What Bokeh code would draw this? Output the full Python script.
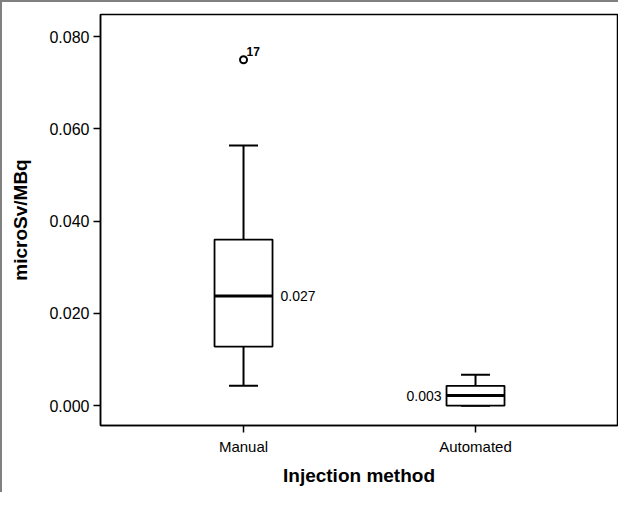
from bokeh.plotting import figure
from bokeh.models import FixedTicker, ColumnDataSource, Range1d
from bokeh.core.properties import value
from bokeh.embed import file_html
from bokeh.resources import INLINE

# ---- data ----
categories = ["Manual", "Automated"]
positions = [0, 1]
q1 = [0.0128, 0.0]
median = [0.0238, 0.0022]
q3 = [0.0360, 0.0043]
whisker_low = [0.0043, 0.0]
whisker_high = [0.0564, 0.0067]
means = [0.027, 0.003]
outlier_pos = [0]
outlier_val = [0.075]
outlier_ids = ["17"]
y_ticks = [0.0, 0.02, 0.04, 0.06, 0.08]

FONT = "Liberation Sans"
box_half = 0.125
cap_half = 0.0625

p = figure(width=618, height=492, output_backend="svg", toolbar_location=None,
           x_range=Range1d(-0.6165, 1.612), y_range=Range1d(-0.0043, 0.0848),
           min_border_left=98, min_border_top=12, min_border_right=3, min_border_bottom=69)
p.styles = {"border-left": "2px solid #808080", "border-top": "2px solid #808080"}
p.grid.visible = False
p.background_fill_color = "white"
p.border_fill_color = "white"
p.outline_line_color = "black"
p.outline_line_width = 1.5

src = ColumnDataSource(dict(
    x=positions,
    left=[v - box_half for v in positions], right=[v + box_half for v in positions],
    cl=[v - cap_half for v in positions], cr=[v + cap_half for v in positions],
    q1=q1, med=median, q3=q3, lo=whisker_low, hi=whisker_high,
    mean_txt=["%.3f" % m for m in means],
))

# whiskers
p.segment(x0="x", y0="q3", x1="x", y1="hi", source=src, line_color="black", line_width=2)
p.segment(x0="x", y0="lo", x1="x", y1="q1", source=src, line_color="black", line_width=2)
p.segment(x0="cl", y0="hi", x1="cr", y1="hi", source=src, line_color="black", line_width=2)
p.segment(x0="cl", y0="lo", x1="cr", y1="lo", source=src, line_color="black", line_width=2)
# boxes
p.quad(left="left", right="right", bottom="q1", top="q3", source=src,
       fill_color="white", line_color="black", line_width=1.8)
# median
p.segment(x0="left", y0="med", x1="right", y1="med", source=src, line_color="black", line_width=3)

# mean labels
p.text(x=[positions[0]], y=[median[0]], text=[src.data["mean_txt"][0]], x_offset=37,
       text_align="left", text_baseline="middle", text_font=value(FONT),
       text_font_size="14px", text_color="black")
p.text(x=[positions[1]], y=[median[1]], text=[src.data["mean_txt"][1]], x_offset=-34,
       text_align="right", text_baseline="middle", text_font=value(FONT),
       text_font_size="14px", text_color="black")

# outlier
p.scatter(x=outlier_pos, y=outlier_val, marker="circle", size=7, fill_color="white",
          line_color="black", line_width=2)
p.text(x=outlier_pos, y=outlier_val, text=outlier_ids, x_offset=3, y_offset=-4,
       text_align="left", text_baseline="bottom", text_font=value(FONT),
       text_font_size="12px", text_font_style="bold", text_color="black")

# axes
p.xaxis.ticker = FixedTicker(ticks=positions)
p.xaxis.major_label_overrides = {pos: c for pos, c in zip(positions, categories)}
p.yaxis.ticker = FixedTicker(ticks=y_ticks)
p.yaxis.major_label_overrides = {t: "%.3f" % t for t in y_ticks}
for ax in (p.xaxis[0], p.yaxis[0]):
    ax.axis_line_color = "black"
    ax.axis_line_width = 1.5
    ax.major_tick_line_color = "black"
    ax.major_tick_line_width = 1.5
    ax.major_tick_out = 7
    ax.major_tick_in = 0
    ax.minor_tick_line_color = None
    ax.major_label_text_font = FONT
    ax.major_label_text_color = "black"
    ax.axis_label_text_font = FONT
    ax.axis_label_text_font_style = "bold"
    ax.axis_label_text_color = "black"

p.xaxis.major_label_text_font_size = "15px"
p.yaxis.major_label_text_font_size = "16px"
p.xaxis.major_label_standoff = 5
p.yaxis.major_label_standoff = 4
p.xaxis.axis_label = "Injection method"
p.xaxis.axis_label_text_font_size = "19px"
p.xaxis.axis_label_standoff = 7
p.yaxis.axis_label = "microSv/MBq"
p.yaxis.axis_label_text_font_size = "19px"
p.yaxis.axis_label_standoff = 15

open("out.html", "w").write(file_html(p, INLINE))
